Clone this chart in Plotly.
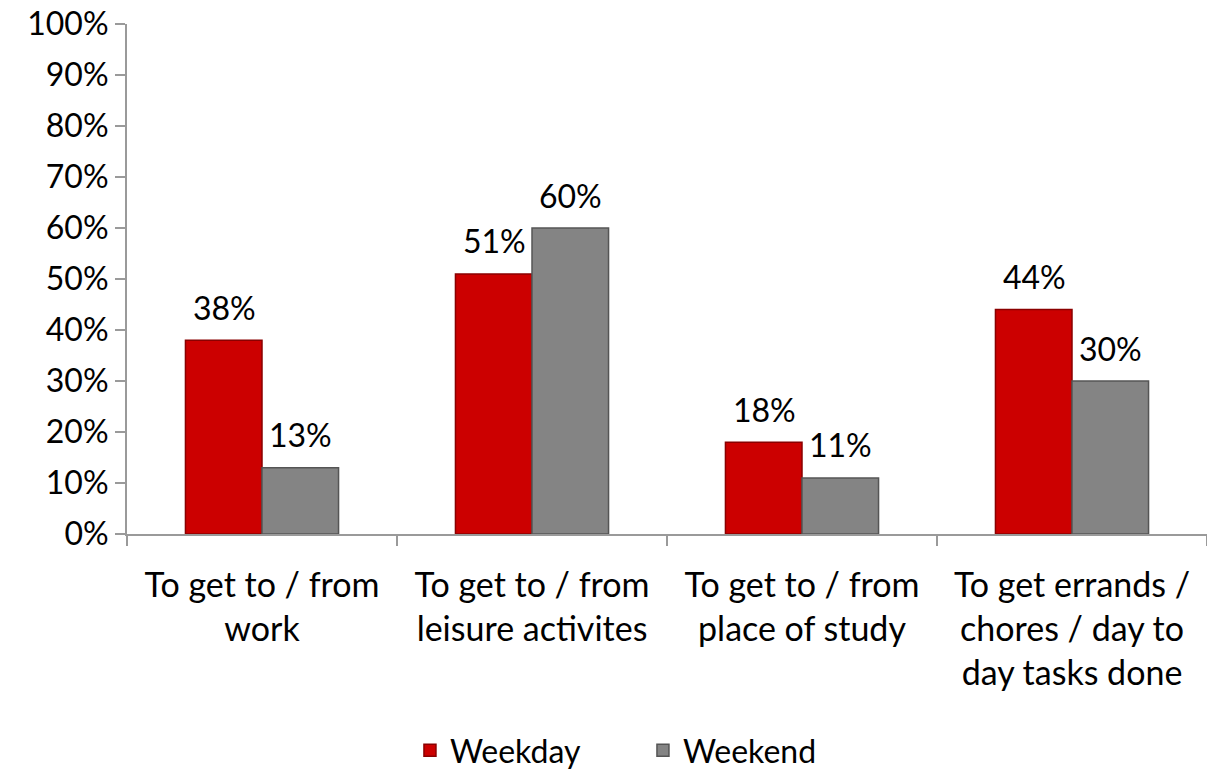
import plotly.graph_objects as go

categories = ["To get to / from<br>work", "To get to / from<br>leisure activites",
              "To get to / from<br>place of study", "To get errands /<br>chores / day to<br>day tasks done"]
weekday = [38, 51, 18, 44]
weekend = [13, 60, 11, 30]
y_ticks = [0, 10, 20, 30, 40, 50, 60, 70, 80, 90, 100]

FONT = "Lato, 'Open Sans', sans-serif"

fig = go.Figure()
fig.add_trace(go.Bar(
    name="Weekday", x=categories, y=weekday,
    marker=dict(color="#CC0000", line=dict(color="#8a0000", width=1.5)),
))
fig.add_trace(go.Bar(
    name="Weekend", x=categories, y=weekend,
    marker=dict(color="#848484", line=dict(color="#555555", width=1.5)),
))

# data labels above each bar
for series, shift in ((weekday, -38), (weekend, 38)):
    for cat, v in zip(categories, series):
        fig.add_annotation(x=cat, y=v, text=f"{v}%", showarrow=False,
                           xshift=shift, yshift=33, yanchor="middle",
                           font=dict(size=32, color="black", family=FONT))

fig.update_layout(
    width=1207, height=778,
    margin=dict(l=127, r=0, t=24, b=244),
    paper_bgcolor="white", plot_bgcolor="white",
    barmode="group", bargap=0.433, bargroupgap=0,
    font=dict(family=FONT, size=32, color="black"),
    showlegend=True,
    legend=dict(orientation="h", x=0.262, xanchor="left", y=-0.425, yanchor="middle",
                font=dict(size=32), entrywidth=188, entrywidthmode="pixels",
                traceorder="normal", borderwidth=0),
    xaxis=dict(showline=True, linecolor="#9a9a9a", linewidth=2,
               ticks="outside", tickson="boundaries", ticklen=10, tickcolor="#9a9a9a",
               tickwidth=2, showgrid=False, tickfont=dict(size=34),
               ticklabelstandoff=20, automargin=False),
    yaxis=dict(range=[0, 100], tickvals=y_ticks, ticktext=[f"{v}%" for v in y_ticks],
               showline=True, linecolor="#9a9a9a", linewidth=2,
               ticks="outside", ticklen=10, tickcolor="#9a9a9a", tickwidth=2,
               showgrid=False, zeroline=False, tickfont=dict(size=32), automargin=False),
)

fig.write_html("out.html")
